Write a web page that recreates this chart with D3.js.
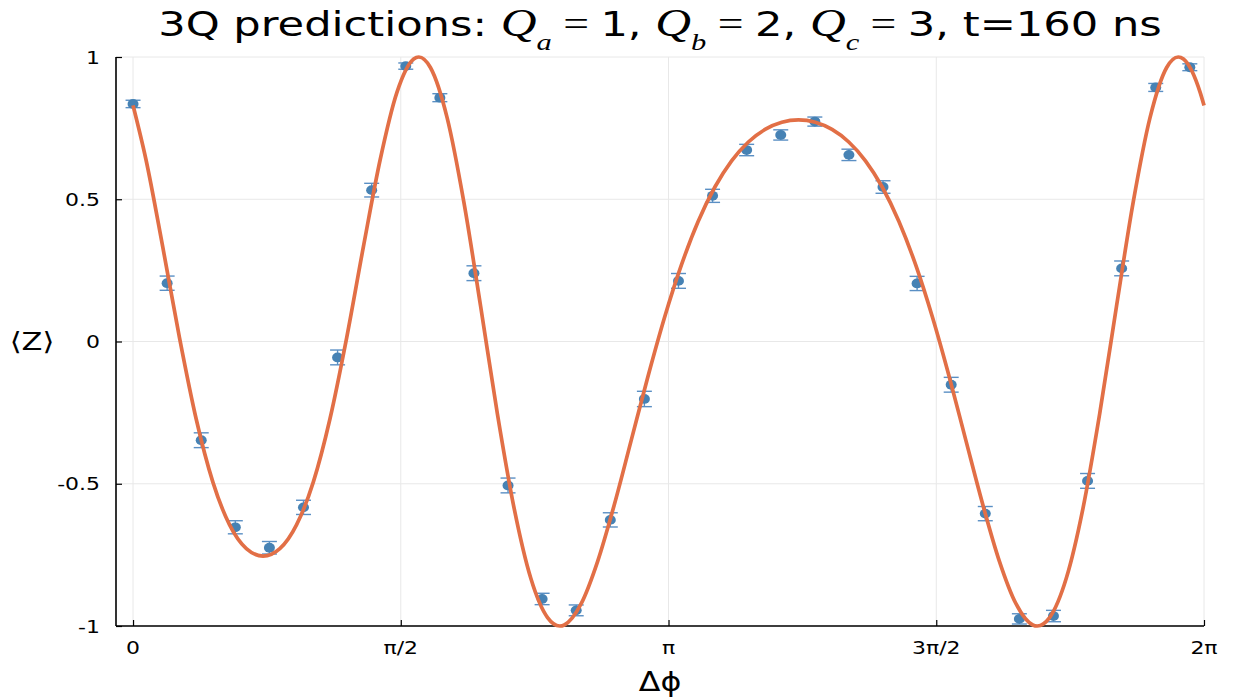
<!DOCTYPE html>
<html>
<head>
<meta charset="utf-8">
<script src="https://cdn.jsdelivr.net/npm/d3@7"></script>
<style>
  html, body { margin: 0; padding: 0; background: #ffffff; }
  svg { display: block; }
  text { font-family: "DejaVu Sans", sans-serif; fill: #000; }
</style>
</head>
<body>
<svg id="chart" width="1234" height="700"></svg>
<script>
// Measured points: phase difference (rad) and <Z> with its error bar
const dataPhase = [0.0, 0.2, 0.4, 0.6, 0.8, 1.0, 1.2, 1.4, 1.6, 1.8, 2.0, 2.2, 2.4, 2.6, 2.8, 3.0,
                   3.2, 3.4, 3.6, 3.8, 4.0, 4.2, 4.4, 4.6, 4.8, 5.0, 5.2, 5.4, 5.6, 5.8, 6.0, 6.2];
const dataZ = [0.835, 0.205, -0.347, -0.653, -0.725, -0.583, -0.056, 0.532, 0.968, 0.857, 0.240, -0.506,
               -0.905, -0.945, -0.627, -0.202, 0.213, 0.512, 0.673, 0.726, 0.773, 0.656, 0.543, 0.204,
               -0.152, -0.605, -0.975, -0.965, -0.490, 0.257, 0.893, 0.964];
const dataErr = [0.013, 0.025, 0.026, 0.023, 0.022, 0.025, 0.026, 0.024, 0.011, 0.014, 0.026, 0.026,
                 0.020, 0.019, 0.025, 0.027, 0.026, 0.023, 0.020, 0.018, 0.016, 0.020, 0.022, 0.025,
                 0.026, 0.025, 0.018, 0.020, 0.026, 0.026, 0.014, 0.012];

// Predicted curve: phase in units of pi, and <Z>
const curvePhasePi = [0.0000, 0.0241, 0.0553, 0.0866, 0.1178, 0.1491, 0.1803, 0.2116, 0.2428, 0.2741,
  0.3053, 0.3366, 0.3678, 0.3991, 0.4303, 0.4616, 0.4928, 0.5241, 0.5336, 0.5553, 0.5866, 0.6178,
  0.6491, 0.6803, 0.7116, 0.7428, 0.7741, 0.7971, 0.8053, 0.8366, 0.8678, 0.8991, 0.9303, 0.9616,
  0.9928, 1.0241, 1.0553, 1.0866, 1.1178, 1.1491, 1.1803, 1.2116, 1.2428, 1.2741, 1.3053, 1.3366,
  1.3678, 1.3991, 1.4303, 1.4616, 1.4928, 1.5241, 1.5553, 1.5866, 1.6178, 1.6491, 1.6803, 1.6885,
  1.7116, 1.7428, 1.7741, 1.8053, 1.8366, 1.8678, 1.8991, 1.9303, 1.9520, 1.9616, 1.9928, 2.0000];
const curveZ = [0.8299, 0.6397, 0.3342, 0.0147, -0.2714, -0.4942, -0.6446, -0.7281, -0.7545, -0.7281,
  -0.6446, -0.4942, -0.2714, 0.0147, 0.3342, 0.6397, 0.8756, 0.9929, 1.0000, 0.9631, 0.7860, 0.4898,
  0.1239, -0.2528, -0.5856, -0.8324, -0.9705, -1.0000, -0.9964, -0.9226, -0.7718, -0.5712, -0.3476, -0.1230,
  0.0860, 0.2691, 0.4217, 0.5430, 0.6351, 0.7012, 0.7453, 0.7704, 0.7788, 0.7704, 0.7453, 0.7012,
  0.6351, 0.5430, 0.4217, 0.2691, 0.0860, -0.1230, -0.3476, -0.5712, -0.7718, -0.9226, -0.9964, -1.0000,
  -0.9705, -0.8324, -0.5856, -0.2528, 0.1239, 0.4898, 0.7860, 0.9631, 1.0000, 0.9929, 0.8756, 0.8299];

// Axis ticks
const xTickValuesPi = [0, 0.5, 1, 1.5, 2];
const xTickLabels = ["0", "π/2", "π", "3π/2", "2π"];
const yTickValues = [-1, -0.5, 0, 0.5, 1];
const yTickLabels = ["-1", "-0.5", "0", "0.5", "1"];

const W = 1234, H = 700;
const plot = { left: 116, right: 1204, top: 57, bottom: 626 };
const stretch = 1.22;   // glyphs in this figure are drawn slightly wide

const svg = d3.select("#chart");
const x = d3.scaleLinear().domain([-0.1, 2 * Math.PI]).range([plot.left, plot.right]);
const y = d3.scaleLinear().domain([-1, 1]).range([plot.bottom, plot.top]);

const gridColor = "#e8e8e8";
const pointColor = "#4682b4";
const barColor = "#5a8fc4";
const lineColor = "#e26f46";

// grid
const grid = svg.append("g");
grid.selectAll("line.gx").data(xTickValuesPi).join("line")
  .attr("x1", d => x(d * Math.PI)).attr("x2", d => x(d * Math.PI))
  .attr("y1", plot.top).attr("y2", plot.bottom)
  .attr("stroke", gridColor).attr("stroke-width", 1);
grid.selectAll("line.gy").data(yTickValues).join("line")
  .attr("x1", plot.left).attr("x2", plot.right)
  .attr("y1", d => y(d)).attr("y2", d => y(d))
  .attr("stroke", gridColor).attr("stroke-width", 1);

// axes (left and bottom spines with inward ticks)
const xAxis = d3.axisBottom(x).tickValues(xTickValuesPi.map(d => d * Math.PI))
  .tickSize(-6).tickSizeOuter(0).tickFormat("");
const yAxis = d3.axisLeft(y).tickValues(yTickValues)
  .tickSize(-6).tickSizeOuter(0).tickFormat("");
const gx = svg.append("g").attr("transform", `translate(0,${plot.bottom})`).call(xAxis);
const gy = svg.append("g").attr("transform", `translate(${plot.left},0)`).call(yAxis);
[gx, gy].forEach(g => {
  g.select(".domain").attr("stroke", "#000").attr("stroke-width", 1.6);
  g.selectAll(".tick line").attr("stroke", "#000").attr("stroke-width", 1.2);
});
gx.select(".domain").attr("d", `M${plot.left},0H${plot.right}`);
gy.select(".domain").attr("d", `M0,${plot.bottom}V${plot.top}`);

// stretched text helper
function label(parent, px, py, txt, size, anchor) {
  return parent.append("text")
    .attr("transform", `translate(${px},${py}) scale(${stretch},1)`)
    .attr("text-anchor", anchor)
    .attr("font-size", size)
    .text(txt);
}

// tick labels
xTickValuesPi.forEach((d, i) => label(svg, x(d * Math.PI), 654, xTickLabels[i], 18, "middle"));
yTickValues.forEach((d, i) => label(svg, 100, y(d) + 6.5, yTickLabels[i], 18, "end"));

// axis labels
label(svg, 660, 691, "Δϕ", 26, "middle");
label(svg, 32, 350, "⟨Z⟩", 25, "middle");

// error bars
const bars = svg.append("g").attr("stroke", barColor).attr("stroke-width", 1.4);
dataPhase.forEach((p, i) => {
  const cx = x(p), y0 = y(dataZ[i] - dataErr[i]), y1 = y(dataZ[i] + dataErr[i]);
  bars.append("line").attr("x1", cx).attr("x2", cx).attr("y1", y0).attr("y2", y1);
  bars.append("line").attr("x1", cx - 7.5).attr("x2", cx + 7.5).attr("y1", y0).attr("y2", y0);
  bars.append("line").attr("x1", cx - 7.5).attr("x2", cx + 7.5).attr("y1", y1).attr("y2", y1);
});

// markers
svg.append("g").selectAll("ellipse").data(dataPhase).join("ellipse")
  .attr("cx", d => x(d)).attr("cy", (d, i) => y(dataZ[i]))
  .attr("rx", 5.5).attr("ry", 4.9)
  .attr("fill", pointColor);

// predicted curve
const curvePts = curvePhasePi.map((p, i) => [p * Math.PI, curveZ[i]]);
svg.append("path").datum(curvePts)
  .attr("fill", "none").attr("stroke", lineColor).attr("stroke-width", 3.7)
  .attr("stroke-linejoin", "round")
  .attr("d", d3.line().x(d => x(d[0])).y(d => y(d[1])).curve(d3.curveMonotoneX));

// title
const title = svg.append("text")
  .attr("transform", `translate(660,36) scale(1.27,1)`)
  .attr("text-anchor", "middle")
  .attr("font-size", 34);
const mathFont = "'Liberation Serif', 'DejaVu Serif', serif";
function part(t, opts = {}) {
  const s = title.append("tspan").text(t);
  if (opts.math) s.attr("font-family", mathFont).attr("font-style", "italic");
  if (opts.serif) s.attr("font-family", mathFont);
  if (opts.size) s.attr("font-size", opts.size);
  if (opts.dy) s.attr("dy", opts.dy);
  return s;
}
part("3Q predictions: ");
[["a", "1"], ["b", "2"], ["c", "3"]].forEach(([sub, val], i) => {
  part("Q", { math: true, size: 39 });
  part(sub, { math: true, size: 24, dy: 14 });
  part(" = ", { serif: true, size: 36, dy: -14 });
  part(i < 2 ? val + ", " : val + ", t=160 ns");
});
</script>
</body>
</html>
